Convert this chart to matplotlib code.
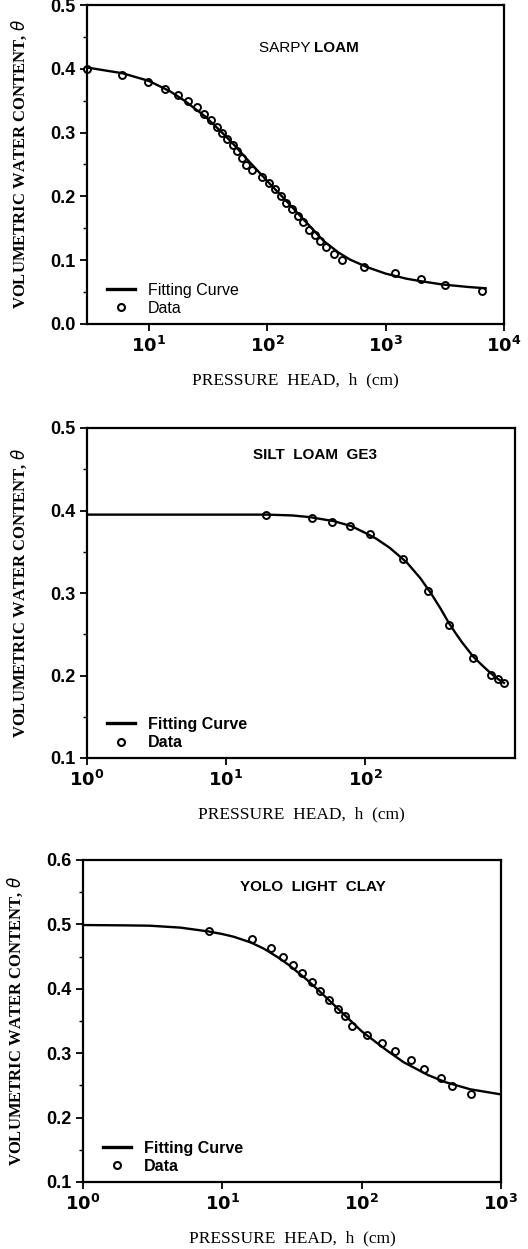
import matplotlib
matplotlib.use("Agg")
import matplotlib.pyplot as plt
from matplotlib.ticker import MultipleLocator, NullLocator
from matplotlib.lines import Line2D

# Sarpy loam
sarpy_h = [3.0, 5.96, 9.75, 13.8, 17.5, 21.6, 25.6, 29.1, 33.3, 37.7, 41.6, 46.1, 51.4,
           55.6, 61.2, 66.7, 74.5, 89.4, 103.5, 115.6, 130, 145, 162, 182, 200, 225,
           252, 277, 316, 367, 428, 652, 1190, 2000, 3190, 6500]
sarpy_theta = [0.400, 0.390, 0.379, 0.368, 0.359, 0.349, 0.340, 0.329, 0.320, 0.309,
               0.299, 0.290, 0.281, 0.271, 0.260, 0.250, 0.241, 0.230, 0.221, 0.211,
               0.200, 0.190, 0.181, 0.170, 0.160, 0.148, 0.139, 0.130, 0.120, 0.110,
               0.100, 0.090, 0.080, 0.071, 0.061, 0.052]
sarpy_fit_h = [3, 6, 10, 15, 20, 30, 40, 50, 70, 100, 150, 200, 300, 400, 500, 700, 1000,
               1500, 2000, 3000, 5000, 7000]
sarpy_fit_theta = [0.402, 0.393, 0.381, 0.365, 0.350, 0.325, 0.303, 0.285, 0.255, 0.224,
                   0.190, 0.165, 0.130, 0.112, 0.101, 0.089, 0.079, 0.071, 0.067, 0.062,
                   0.058, 0.056]

# Silt loam GE3
silt_h = [19.3, 41.8, 58.2, 78, 109, 189, 285, 402, 601, 806, 910, 1000]
silt_theta = [0.394, 0.391, 0.386, 0.381, 0.372, 0.341, 0.302, 0.261, 0.221, 0.201,
              0.196, 0.191]
silt_fit_h = [1, 5, 10, 20, 30, 40, 60, 80, 100, 120, 150, 200, 250, 300, 350, 400, 450,
              500, 600, 700, 800, 900, 1000]
silt_fit_theta = [0.395, 0.395, 0.395, 0.395, 0.394, 0.392, 0.387, 0.381, 0.373, 0.366,
                  0.355, 0.337, 0.318, 0.299, 0.281, 0.264, 0.251, 0.240, 0.223, 0.212,
                  0.203, 0.196, 0.191]

# Yolo light clay
yolo_h = [8.07, 16.3, 22.2, 27.1, 32, 37.2, 44.3, 50.3, 58.3, 67.3, 76, 85.8, 109, 141,
          174, 226, 281, 372, 448, 607]
yolo_theta = [0.490, 0.477, 0.463, 0.450, 0.437, 0.424, 0.410, 0.396, 0.382, 0.369,
              0.357, 0.343, 0.329, 0.316, 0.303, 0.289, 0.276, 0.262, 0.249, 0.236]
yolo_fit_h = [1, 2, 3, 5, 8, 10, 12, 16, 20, 25, 30, 40, 50, 70, 100, 150, 200, 300, 400,
              600, 1000]
yolo_fit_theta = [0.499, 0.4985, 0.498, 0.495, 0.489, 0.485, 0.481, 0.472, 0.462, 0.449,
                  0.437, 0.415, 0.396, 0.366, 0.334, 0.305, 0.286, 0.266, 0.255, 0.244,
                  0.236]

x_label = "PRESSURE  HEAD,  h  (cm)"
y_label = "VOLUMETRIC WATER CONTENT, $\\theta$"

fig = plt.figure(figsize=(5.28, 12.49), dpi=100)


def px_axes(left, right, top, bottom):
    W, H = 528.0, 1249.0
    return fig.add_axes([left / W, 1 - bottom / H, (right - left) / W, (bottom - top) / H])


def style(ax, xlim, ylim, xticks, xticklabels, yticks, bold_legend):
    ax.set_xscale("log")
    ax.set_xlim(*xlim)
    ax.set_ylim(*ylim)
    ax.set_xticks(xticks)
    ax.set_xticklabels(xticklabels)
    ax.xaxis.set_minor_locator(NullLocator())
    ax.set_yticks(yticks)
    ax.set_yticklabels(["%.1f" % v for v in yticks])
    ax.yaxis.set_minor_locator(MultipleLocator(0.05))
    for s in ax.spines.values():
        s.set_linewidth(1.6)
    ax.tick_params(which="major", direction="out", length=5, width=1.3,
                   labelsize=13)
    ax.tick_params(which="minor", direction="out", length=3, width=1.0)
    for lab in ax.get_xticklabels() + ax.get_yticklabels():
        lab.set_fontweight("bold")
        lab.set_family("Liberation Sans")
    ax.set_xlabel(x_label, family="Liberation Serif", fontsize=12.5, labelpad=12)
    ax.set_ylabel(y_label, family="Liberation Serif", fontweight="bold", fontsize=12,
                  labelpad=15)
    handles = [Line2D([], [], color="black", lw=2.4),
               Line2D([], [], color="black", lw=0, marker="o", mfc="white", mew=1.5, ms=5)]
    ax.legend(handles, ["Fitting Curve", "Data"], loc="lower left", frameon=False,
              prop={"family": "Liberation Sans", "size": 11.5,
                    "weight": "bold" if bold_legend else "normal"},
              handlelength=1.8, borderaxespad=0.3, labelspacing=0.2,
              bbox_to_anchor=(0.02, -0.01))


def draw(ax, h, theta, fh, ftheta):
    ax.plot(h, theta, "o", ms=5, mfc="white", mec="black", mew=1.4, zorder=2,
            clip_on=False)
    ax.plot(fh, ftheta, "-", color="black", lw=1.7, zorder=3)


# panel 1
ax1 = px_axes(87, 504, 5, 324)
draw(ax1, sarpy_h, sarpy_theta, sarpy_fit_h, sarpy_fit_theta)
style(ax1, (3, 1e4), (0.0, 0.5), [10, 100, 1000, 10000],
      ["$\\mathbf{10^1}$", "$\\mathbf{10^2}$", "$\\mathbf{10^3}$", "$\\mathbf{10^4}$"],
      [0.0, 0.1, 0.2, 0.3, 0.4, 0.5], False)
ax1.text(0.545, 0.865, "SARPY ", transform=ax1.transAxes, ha="right", va="center",
         family="Liberation Sans", fontsize=11)
ax1.text(0.545, 0.865, "LOAM", transform=ax1.transAxes, ha="left", va="center",
         family="Liberation Sans", fontsize=11, fontweight="bold")

# panel 2
ax2 = px_axes(87, 515, 428, 758)
draw(ax2, silt_h, silt_theta, silt_fit_h, silt_fit_theta)
style(ax2, (1, 1200), (0.1, 0.5), [1, 10, 100],
      ["$\\mathbf{10^0}$", "$\\mathbf{10^1}$", "$\\mathbf{10^2}$"],
      [0.1, 0.2, 0.3, 0.4, 0.5], True)
ax2.text(0.533, 0.918, "SILT  LOAM  GE3", transform=ax2.transAxes, ha="center",
         va="center", family="Liberation Sans", fontsize=11, fontweight="bold")

# panel 3
ax3 = px_axes(83, 501, 860, 1182)
draw(ax3, yolo_h, yolo_theta, yolo_fit_h, yolo_fit_theta)
style(ax3, (1, 1000), (0.1, 0.6), [1, 10, 100, 1000],
      ["$\\mathbf{10^0}$", "$\\mathbf{10^1}$", "$\\mathbf{10^2}$", "$\\mathbf{10^3}$"],
      [0.1, 0.2, 0.3, 0.4, 0.5, 0.6], True)
ax3.text(0.55, 0.916, "YOLO  LIGHT  CLAY", transform=ax3.transAxes, ha="center",
         va="center", family="Liberation Sans", fontsize=11, fontweight="bold")

fig.savefig("out.png", dpi=100)
